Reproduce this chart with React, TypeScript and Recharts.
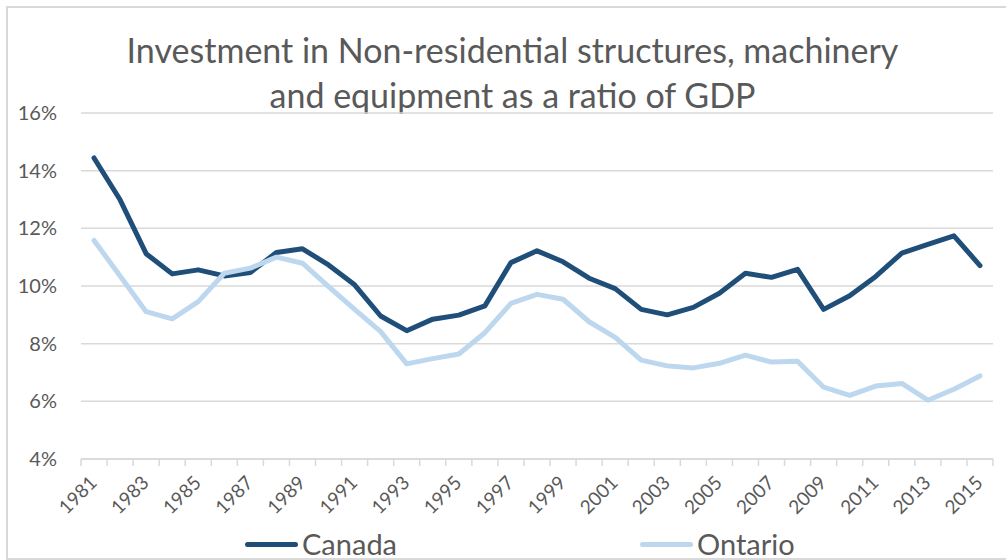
import React from 'react';
import { LineChart, Line, XAxis, YAxis, CartesianGrid, Legend } from 'recharts';

const years = [1981,1982,1983,1984,1985,1986,1987,1988,1989,1990,1991,1992,1993,1994,1995,1996,1997,1998,1999,2000,2001,2002,2003,2004,2005,2006,2007,2008,2009,2010,2011,2012,2013,2014,2015];
const canada = [14.44,12.99,11.12,10.42,10.56,10.35,10.47,11.16,11.29,10.73,10.04,8.96,8.45,8.85,8.99,9.31,10.81,11.22,10.84,10.27,9.91,9.19,9.0,9.26,9.75,10.44,10.30,10.58,9.19,9.66,10.33,11.14,11.44,11.74,10.71];
const ontario = [11.58,10.35,9.11,8.86,9.46,10.44,10.62,11.0,10.79,9.98,9.19,8.42,7.30,7.48,7.64,8.38,9.40,9.71,9.54,8.76,8.22,7.43,7.23,7.16,7.32,7.60,7.36,7.39,6.49,6.21,6.53,6.62,6.04,6.42,6.88];
const yTicks = [4,6,8,10,12,14,16];
const xLabelYears = [1981,1983,1985,1987,1989,1991,1993,1995,1997,1999,2001,2003,2005,2007,2009,2011,2013,2015];
const xBoundaryTicks = [...years.map(y => y - 0.5), years[years.length - 1] + 0.5];
const titleLines = ['Investment in Non-residential structures, machinery', 'and equipment as a ratio of GDP'];

const data = years.map((y, i) => ({ year: y, Canada: canada[i], Ontario: ontario[i] }));

const FONT = 'Lato, "Open Sans", sans-serif';
const TEXT = '#595959';
const GRID = '#D9D9D9';

const XTick = (props: any) => {
  const { x, y, payload, width } = props;
  const step = width / years.length;
  const year = payload.value + 0.5;
  const showLabel = xLabelYears.includes(year);
  const ax = x + step / 2 + 4;
  const ay = y + 25;
  return (
    <g>
      <line x1={x} y1={y} x2={x} y2={y + 7} stroke={GRID} strokeWidth={1.5} />
      {showLabel && (
        <text x={ax} y={ay} transform={`rotate(-45 ${ax} ${ay})`} textAnchor="end" fill={TEXT} fontSize={19} fontFamily={FONT}>
          {year}
        </text>
      )}
    </g>
  );
};

const LegendContent = (props: any) => {
  const { payload } = props;
  return (
    <div style={{ display: 'flex', paddingLeft: 245, height: 28, alignItems: 'center' }}>
      {(payload || []).map((p: any, i: number) => (
        <div key={i} style={{ display: 'flex', alignItems: 'center', width: i === 0 ? 395 : 200 }}>
          <div style={{ width: 53, height: 5, background: p.color, borderRadius: 3, marginRight: 4 }} />
          <span style={{ fontFamily: FONT, fontSize: 29, lineHeight: '28px', color: TEXT }}>{p.value}</span>
        </div>
      ))}
    </div>
  );
};

export default function App() {
  return (
    <div style={{ position: 'absolute', left: 0, top: 0, width: 1006, height: 560, overflow: 'hidden', background: '#fff' }}>
      <div style={{ position: 'absolute', left: 6, top: 6, width: 1100, height: 550, border: `2px solid ${GRID}` }} />
      <div style={{ position: 'absolute', left: 0, top: 27, width: 1025, textAlign: 'center', fontFamily: FONT, fontSize: 34, lineHeight: '45px', color: TEXT }}>
        {titleLines.map((t, i) => <div key={i}>{t}</div>)}
      </div>
      <div style={{ position: 'absolute', left: 0, top: 0 }}>
        <LineChart width={1006} height={560} data={data} margin={{ top: 113, right: 13, left: 0, bottom: 54 }}>
          <CartesianGrid vertical={false} stroke={GRID} strokeWidth={1.5} />
          <XAxis dataKey="year" type="number" domain={[1980.5, 2015.5]} ticks={xBoundaryTicks} tick={<XTick />} tickLine={false} axisLine={{ stroke: GRID, strokeWidth: 1.5 }} tickSize={0} tickMargin={0} height={47} interval={0} />
          <YAxis domain={[4, 16]} ticks={yTicks} tickFormatter={(v: number) => `${v}%`} axisLine={false} tickLine={false} tickSize={0} tickMargin={24} width={81} tick={{ fill: TEXT, fontSize: 20, fontFamily: FONT }} />
          <Legend verticalAlign="middle" align="center" layout="horizontal" content={<LegendContent />} wrapperStyle={{ position: 'absolute', top: 530, left: 0, width: 1006 }} />
          <Line dataKey="Canada" stroke="#1F4E79" strokeWidth={5} dot={false} isAnimationActive={false} strokeLinecap="round" strokeLinejoin="round" />
          <Line dataKey="Ontario" stroke="#BDD7EE" strokeWidth={5} dot={false} isAnimationActive={false} strokeLinecap="round" strokeLinejoin="round" />
        </LineChart>
      </div>
    </div>
  );
}
